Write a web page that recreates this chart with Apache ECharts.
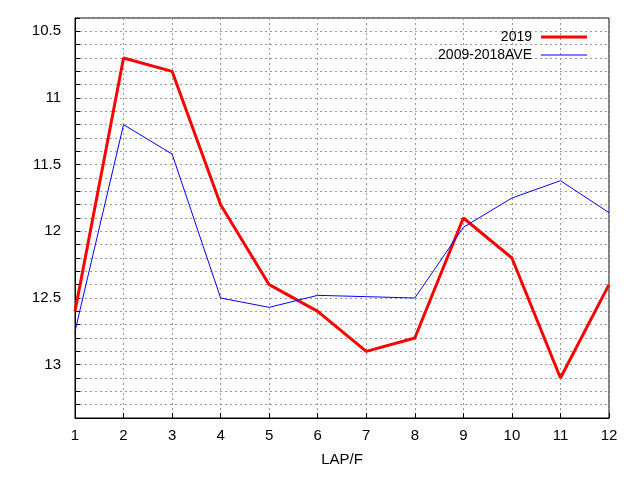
<!DOCTYPE html>
<html><head><meta charset="utf-8">
<script src="https://cdn.jsdelivr.net/npm/echarts@6/dist/echarts.min.js"></script>
<style>html,body{margin:0;padding:0;background:#fff}#c{width:640px;height:480px}</style>
</head><body><div id="c"></div>
<script>
const laps = [1,2,3,4,5,6,7,8,9,10,11,12];
const y2019 = [12.6,10.7,10.8,11.8,12.4,12.6,12.9,12.8,11.9,12.2,13.1,12.4];
const yAve = [12.75,11.2,11.42,12.5,12.57,12.48,12.49,12.5,11.97,11.75,11.62,11.86];
const chart = echarts.init(document.getElementById('c'));
const font = 'Liberation Sans';
const lg = (name, top, h) => ({right:48,top:top,orient:'vertical',align:'right',itemWidth:46,itemHeight:h,
    textStyle:{fontFamily:font,fontSize:14,color:'#000',padding:[0,4,0,0]},
    data:[{name:name,icon:'rect'}]});
chart.setOption({
  animation:false,
  grid:{left:75,right:31,top:18,bottom:62,show:true,borderColor:'#000',borderWidth:1},
  legend:[lg('2019',25,3), lg('2009-2018AVE',43,1)],
  xAxis:{type:'value',min:1,max:12,interval:1,name:'LAP/F',nameLocation:'middle',nameGap:34,
    nameTextStyle:{fontFamily:font,fontSize:15,color:'#000'},
    axisLine:{lineStyle:{color:'#000'}},axisTick:{inside:true,lineStyle:{color:'#000'}},
    axisLabel:{fontFamily:font,fontSize:15,color:'#000',margin:10},
    splitLine:{show:true,lineStyle:{color:'#999',type:[2,3]}}},
  yAxis:{type:'value',inverse:true,min:10.4,max:13.4,interval:0.1,
    axisLine:{lineStyle:{color:'#000'}},axisTick:{inside:true,lineStyle:{color:'#000'}},
    axisLabel:{fontFamily:font,fontSize:15,color:'#000',margin:14,
      formatter:v=>{const r=Math.round(v*10);return r%5===0?String(r/10):'';}},
    splitLine:{show:true,lineStyle:{color:'#999',type:[2,3]}}},
  series:[
    {name:'2019',type:'line',data:laps.map((x,i)=>[x,y2019[i]]),symbol:'none',
      lineStyle:{color:'#ff0000',width:3},itemStyle:{color:'#ff0000'}},
    {name:'2009-2018AVE',type:'line',data:laps.map((x,i)=>[x,yAve[i]]),symbol:'none',
      lineStyle:{color:'#0000ff',width:1},itemStyle:{color:'#0000ff'}}
  ]
});
</script></body></html>
